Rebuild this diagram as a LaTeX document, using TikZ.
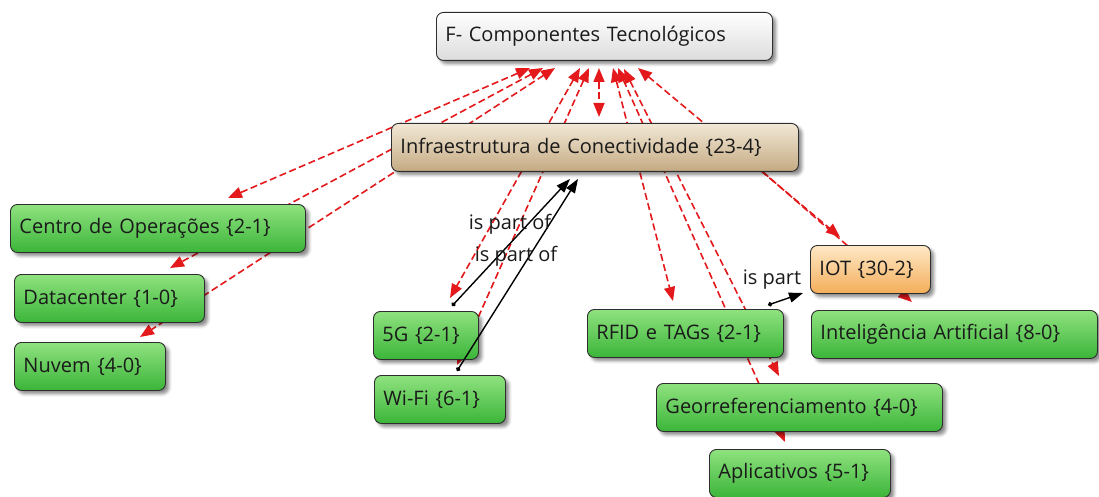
\documentclass[tikz,border=0pt]{standalone}
\usepackage{fontspec}
\setmainfont{Open Sans}
\usetikzlibrary{arrows.meta,shadows.blur,calc}

\definecolor{greenTop}{HTML}{8FE27F}
\definecolor{greenBot}{HTML}{3BB539}
\definecolor{tanTop}{HTML}{F2E8D6}
\definecolor{tanBot}{HTML}{C4AA82}
\definecolor{greyTop}{HTML}{FFFFFF}
\definecolor{greyBot}{HTML}{DCDCDC}
\definecolor{orangeTop}{HTML}{FEE8C6}
\definecolor{orangeBot}{HTML}{F4AE5A}
\definecolor{linkred}{HTML}{E3191C}
\definecolor{boxline}{HTML}{2E2E2E}
\definecolor{ink}{HTML}{1A1A1A}

\tikzset{
  concept/.style={draw=boxline, line width=0.9pt, rounded corners=7pt,
    anchor=north west, minimum height=48pt, inner xsep=9pt, inner ysep=0pt,
    align=left, text=ink, font=\fontsize{20}{24}\selectfont,
    blur shadow={shadow xshift=3.5pt, shadow yshift=-3.5pt,
      shadow blur radius=3pt, shadow opacity=45}},
  greenbox/.style={concept, top color=greenTop, bottom color=greenBot},
  tanbox/.style={concept, top color=tanTop, bottom color=tanBot},
  greybox/.style={concept, top color=greyTop, bottom color=greyBot},
  orangebox/.style={concept, top color=orangeTop, bottom color=orangeBot},
  redlink/.style={draw=linkred, line width=1.6pt, dash pattern=on 7pt off 3.5pt,
    {Triangle[length=14pt,width=11pt]}-{Triangle[length=14pt,width=11pt]}},
  redone/.style={draw=linkred, line width=1.6pt, dash pattern=on 7pt off 3.5pt,
    -{Triangle[length=14pt,width=11pt]}},
  partof/.style={draw=black, line width=1.4pt,
    {Circle[length=4.5pt]}-{Triangle[length=14pt,width=10pt]}},
  linklabel/.style={font=\fontsize{20}{24}\selectfont, text=ink, inner sep=0pt},
}

\begin{document}
\begin{tikzpicture}[x=1pt, y=-1pt]
\useasboundingbox (0,0) rectangle (1099,497);

% attachment points of the cross links
\coordinate (fA) at (530,68);
\coordinate (fB) at (543,68);
\coordinate (fC) at (555,68);
\coordinate (fD) at (580,68);
\coordinate (fE) at (589,68);
\coordinate (fF) at (599,68);
\coordinate (fG) at (613,68);
\coordinate (fH) at (618,68);
\coordinate (fI) at (624,69);
\coordinate (fJ) at (638,68);

\coordinate (tCentro) at (228,198);
\coordinate (tData) at (170,268);
\coordinate (tNuvem) at (140,337);
\coordinate (t5G) at (450,298);
\coordinate (tWifi) at (457,365);
\coordinate (tInfra) at (599,117);
\coordinate (tRfid) at (673,301);
\coordinate (tApl) at (785,442);
\coordinate (tGeo) at (779,376);
\coordinate (tIot) at (840,237);
\coordinate (sInfra) at (763,172);
\coordinate (tIa) at (912,302);

% red cross links (drawn first, so the concepts cover them)
\draw[redlink] (fA) -- (tCentro);
\draw[redlink] (fB) -- (tData);
\draw[redlink] (fC) -- (tNuvem);
\draw[redlink] (fD) -- (t5G);
\draw[redlink] (fE) -- (tWifi);
\draw[redlink] (fF) -- (tInfra);
\draw[redlink] (fG) -- (tRfid);
\draw[redlink] (fH) -- (tApl);
\draw[redlink] (fI) -- (tGeo);
\draw[redlink] (fJ) -- (tIot);
\draw[redone] (sInfra) -- (tIa);

% concepts
\node[greybox, text width=318pt] (top) at (436,12) {F- Componentes Tecnológicos};
\node[tanbox, text width=389pt] (infra) at (391,123) {Infraestrutura de Conectividade {\{}23-4{\}}};
\node[greenbox, text width=277pt] (centro) at (10,204) {Centro de Operações {\{}2-1{\}}};
\node[greenbox, text width=172pt] (data) at (14,274) {Datacenter {\{}1-0{\}}};
\node[greenbox, text width=133pt] (nuvem) at (14,342) {Nuvem {\{}4-0{\}}};
\node[greenbox, text width=87pt] (g5) at (373,311) {5G {\{}2-1{\}}};
\node[greenbox, text width=113pt] (wifi) at (374,375) {Wi-Fi {\{}6-1{\}}};
\node[greenbox, text width=178pt] (rfid) at (587,309) {RFID e TAGs {\{}2-1{\}}};
\node[orangebox, text width=102pt] (iot) at (810,245) {IOT {\{}30-2{\}}};
\node[greenbox, text width=268pt] (ia) at (811,310) {Inteligência Artificial {\{}8-0{\}}};
\node[greenbox, text width=268pt] (geo) at (656,383) {Georreferenciamento {\{}4-0{\}}};
\node[greenbox, text width=163pt] (apl) at (709,449) {Aplicativos {\{}5-1{\}}};

% "is part of" links
\coordinate (s5G) at (452,306);
\coordinate (sWifi) at (457,371);
\coordinate (sRfid) at (768,305);
\draw[partof] (s5G) -- ($(infra.south west)+(179,7)$);
\draw[partof] (sWifi) -- ($(infra.south west)+(187,7)$);
\draw[partof] (sRfid) -- ($(iot.north west)+(-7,48)$);

\node[linklabel] (lab1) at (510,224) {is part of};
\node[linklabel] (lab2) at (516,256) {is part of};
\node[linklabel] (lab3) at (772,280) {is part};
\end{tikzpicture}
\end{document}
